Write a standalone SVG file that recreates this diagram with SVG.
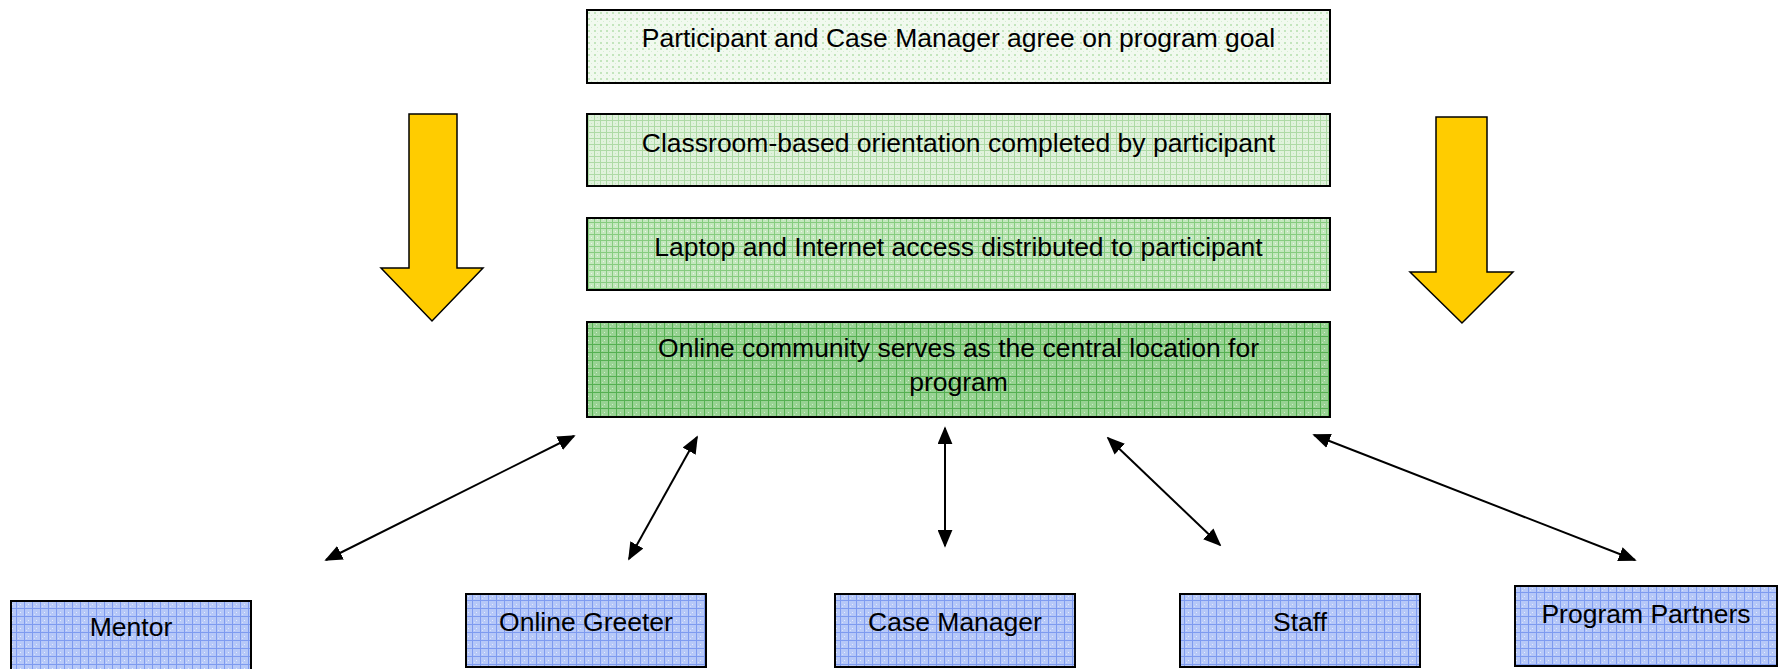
<svg xmlns="http://www.w3.org/2000/svg" width="1779" height="669" viewBox="0 0 1779 669">
<defs>
<pattern id="g1" patternUnits="userSpaceOnUse" width="6" height="6">
<rect width="6" height="6" fill="#f1f9ef"/>
<rect x="0" y="0" width="2" height="2" fill="#c3e5bd"/>
<rect x="3" y="3" width="1" height="1" fill="#d6eed2"/>
</pattern>
<pattern id="g2" patternUnits="userSpaceOnUse" width="6" height="6">
<rect width="6" height="6" fill="#e0f2dc"/>
<rect x="0" y="0" width="6" height="1" fill="#aedaa6"/>
<rect x="0" y="0" width="1" height="6" fill="#aedaa6"/>
<rect x="3" y="3" width="1" height="1" fill="#c6e6c0"/>
</pattern>
<pattern id="g3" patternUnits="userSpaceOnUse" width="6" height="6">
<rect width="6" height="6" fill="#c4e7be"/>
<rect x="0" y="0" width="6" height="1" fill="#86cc7f"/>
<rect x="0" y="0" width="1" height="6" fill="#86cc7f"/>
<rect x="3" y="3" width="1" height="1" fill="#eaf7e7"/>
</pattern>
<pattern id="g4" patternUnits="userSpaceOnUse" width="8" height="8">
<rect width="8" height="8" fill="#98d393"/>
<rect x="0" y="0" width="8" height="1" fill="#55b052"/>
<rect x="0" y="0" width="1" height="8" fill="#55b052"/>
<rect x="4" y="4" width="1" height="1" fill="#d2eecf"/>
<rect x="2" y="6" width="1" height="1" fill="#c2e6bd"/>
</pattern>
<pattern id="b1" patternUnits="userSpaceOnUse" width="8" height="8">
<rect width="8" height="8" fill="#b6c8f8"/>
<rect x="0" y="0" width="8" height="1" fill="#7e9bf0"/>
<rect x="0" y="0" width="1" height="8" fill="#7e9bf0"/>
<rect x="4" y="4" width="1" height="1" fill="#e4ebfd"/>
<rect x="2" y="6" width="1" height="1" fill="#d6e0fb"/>
</pattern>
<marker id="ah" viewBox="0 0 10 10" refX="9" refY="5" markerWidth="9" markerHeight="7.5" markerUnits="strokeWidth" orient="auto-start-reverse" preserveAspectRatio="none">
<path d="M0,0 L10,5 L0,10 Z" fill="#000"/>
</marker>
</defs>
<style>
.box{stroke:#000;stroke-width:2}
.t{font-family:"Liberation Sans",Arial,sans-serif;font-size:26.5px;fill:#000;text-anchor:middle}
.ya{fill:#ffcc00;stroke:#000;stroke-width:1.5;stroke-linejoin:miter}
.c{stroke:#000;stroke-width:2;fill:none;marker-start:url(#ah);marker-end:url(#ah)}
</style>
<rect width="1779" height="669" fill="#fff"/>

<g id="step1">
<rect class="box" x="587" y="10" width="743" height="73" fill="url(#g1)"/>
<text class="t" x="958.5" y="47">Participant and Case Manager agree on program goal</text>
</g>
<g id="step2">
<rect class="box" x="587" y="114" width="743" height="72" fill="url(#g2)"/>
<text class="t" x="958.5" y="152">Classroom-based orientation completed by participant</text>
</g>
<g id="step3">
<rect class="box" x="587" y="218" width="743" height="72" fill="url(#g3)"/>
<text class="t" x="958.5" y="256">Laptop and Internet access distributed to participant</text>
</g>
<g id="step4">
<rect class="box" x="587" y="322" width="743" height="95" fill="url(#g4)"/>
<text class="t" x="958.5" y="357">Online community serves as the central location for</text>
<text class="t" x="958.5" y="391">program</text>
</g>

<g id="arrow-left">
<polygon class="ya" points="409,114 457,114 457,268 483,268 432,321 381,268 409,268"/>
</g>
<g id="arrow-right">
<polygon class="ya" points="1436,117 1487,117 1487,272 1513,272 1462,323 1410,272 1436,272"/>
</g>

<g id="mentor">
<rect class="box" x="11" y="601" width="240" height="80" fill="url(#b1)"/>
<text class="t" x="131" y="636">Mentor</text>
</g>
<g id="greeter">
<rect class="box" x="466" y="594" width="240" height="73" fill="url(#b1)"/>
<text class="t" x="586" y="631">Online Greeter</text>
</g>
<g id="casemanager">
<rect class="box" x="835" y="594" width="240" height="73" fill="url(#b1)"/>
<text class="t" x="955" y="631">Case Manager</text>
</g>
<g id="staff">
<rect class="box" x="1180" y="594" width="240" height="73" fill="url(#b1)"/>
<text class="t" x="1300" y="631">Staff</text>
</g>
<g id="partners">
<rect class="box" x="1515" y="586" width="262" height="80" fill="url(#b1)"/>
<text class="t" x="1646" y="623">Program Partners</text>
</g>

<g id="connectors">
<line class="c" x1="326" y1="560" x2="574" y2="436"/>
<line class="c" x1="629" y1="559" x2="697" y2="437"/>
<line class="c" x1="945" y1="428" x2="945" y2="546"/>
<line class="c" x1="1108" y1="438" x2="1220" y2="545"/>
<line class="c" x1="1314" y1="435" x2="1635" y2="560"/>
</g>
</svg>
